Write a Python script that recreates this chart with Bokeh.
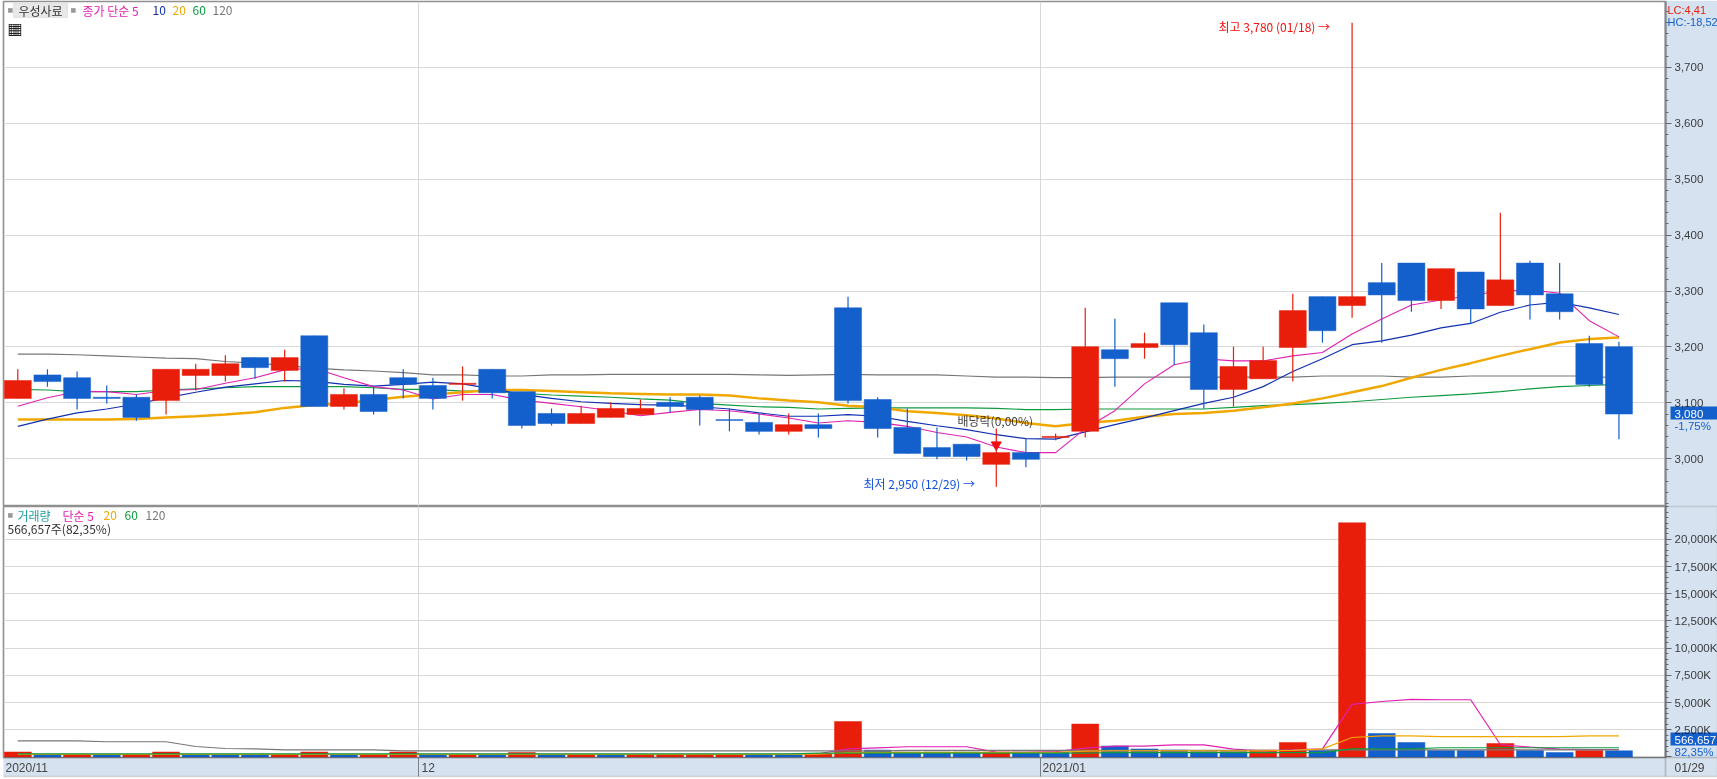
from bokeh.plotting import figure
from bokeh.layouts import column
from bokeh.models import (BoxAnnotation, ColumnDataSource, CustomJSTickFormatter, FixedTicker,
                          Label, LinearAxis, NumeralTickFormatter, Range1d)
from bokeh.embed import file_html
from bokeh.resources import INLINE

opens = [3108,3150,3145,3110,3110,3104,3149,3149,3181,3158,3220,3093.5,3115,3145,3131,3133,3160,
         3120,3081,3063,3074,3079,3101,3110,3070,3065,3049,3061,3270,3106,3056,3020,3026,2990,3011,
         3038,3049,3195,3199,3279,3225.5,3124,3143,3199,3290,3274,3315,3350,3283,3334,3274,3350,3295,3206,3200.5]
highs = [3160,3160,3156,3131,3115,3160,3170,3185,3181,3195,3220,3126,3129,3160,3145,3165,3160,
         3120,3090,3095,3101,3106,3110,3113,3090,3081,3081,3081,3290,3110,3090,3056,3026,3015,3036,
         3045,3270,3250.5,3225.5,3279,3240,3200.5,3200.5,3295,3290,3780,3350,3350,3340,3334,3440,3354,3350,3220,3209.5]
lows = [3108,3129,3088,3099,3068,3079,3122,3138,3143,3138,3093.5,3088,3079,3108,3088,3104,3108,
        3054,3059.5,3063,3074,3079,3083,3059.5,3049,3043.5,3043.5,3038,3099,3038,3009.5,2999,2997,2950,2985,
        3033,3038,3129,3179,3168,3090,3093.5,3143,3138,3207.7,3252,3207.7,3263,3268,3241.6,3274,3249,3249,3129,3035]
closes = [3140,3138,3108,3108,3074,3160,3160,3170,3163,3181,3093.5,3115,3084.5,3133,3108,3135,3118,
          3059.5,3063,3081,3090,3090,3093.5,3088,3068.5,3049,3061,3054,3104,3054,3009.5,3004,3004,3011,2999,
          3040,3200.5,3179,3206,3204,3124,3165,3175.6,3265,3229,3290,3293,3283,3340,3268,3320,3293,3263,3133,3080]

ma5 = [3094,3109,3120,3120,3115,3122,3124,3135,3145,3159,3162,3145,3129,3123,3107,3115,3115,
       3105,3099,3093,3086,3077,3083,3088,3086,3080,3073,3064,3068,3065,3058,3047,3039,3021,3011,
       3011,3054,3086,3134,3168,3179,3175,3175,3184,3190,3223,3250,3275,3284,3292,3300,3302,3296,3247,3218]
ma10 = [3058,3071,3082,3089,3098,3109,3119,3128,3134,3140,3139,3133,3130,3133,3137,3134,3125,
        3115,3108,3102,3099,3097,3096,3093,3089,3082,3076,3076,3079,3076,3067,3059,3052,3043,3036,
        3035,3048,3061,3073,3086,3099,3110,3129,3156,3179,3204,3211,3221,3234,3242,3262,3275,3280,3270,3258]
ma20 = [3070,3070,3070,3070,3071,3074,3076,3079,3083,3091,3096,3099,3105,3111,3115,3119,3123,
        3123,3121,3119,3117,3116,3115,3115,3113,3108,3104,3101,3095,3092,3085,3082,3078,3072,3064,
        3058,3064,3068,3075,3080,3082,3086,3092,3099,3108,3119,3130,3145,3159,3171,3184,3196,3208,3214,3217]
ma60 = [3124,3123,3120,3120,3120,3123,3125,3127,3129,3129,3129,3129,3127,3124,3124,3121,3121,
        3117,3114,3112,3110,3107,3105,3099,3096,3093,3092,3089,3090,3091,3091,3091,3091,3090,3088,
        3088,3089,3089,3089,3089,3089,3092,3095,3097,3099,3102,3106,3110,3113,3116,3120,3125,3129,3131,3133]
ma120 = [3187,3187,3186,3184,3182,3180,3179,3174,3171,3167,3162,3159,3157,3154,3150,3150,3148,
         3148,3150,3150,3151,3151,3151,3151,3151,3150,3149,3150,3151,3150,3150,3150,3148,3146,3146,
         3145,3145,3146,3146,3146,3146,3146,3146,3146,3148,3148,3148,3146,3146,3148,3148,3148,3148,3148,3144]

volume = [460,190,190,190,190,460,190,190,190,190,460,190,190,460,190,190,190,415,190,190,190,190,190,190,190,190,190,
          280,3260,640,460,460,460,460,460,460,3030,1010,740,640,500,500,640,1340,600,21520,2160,1330,600,600,1240,600,414,600,566.657]
volume_up = [1,0,1,0,1,1,0,0,0,1,1,0,1,1,0,1,0,1,0,1,0,1,1,1,1,0,0,1,1,0,0,0,0,1,0,0,1,0,0,0,0,0,1,1,0,1,0,0,0,0,1,0,0,1,0]
vol_ma5 = [240,240,240,240,240,240,240,240,240,240,240,240,240,240,240,240,240,240,240,240,240,240,240,240,240,240,240,
           300,750,840,940,940,940,450,430,500,820,1000,1000,1120,1120,730,540,650,750,4830,5100,5290,5260,5260,1150,900,720,690,690]
vol_ma20 = [230,230,230,230,230,230,230,230,230,230,230,230,230,230,230,230,230,230,230,230,230,230,230,230,230,240,250,
            270,400,420,430,430,430,430,430,430,540,570,570,570,570,570,570,600,750,1790,1950,1950,1880,1880,1880,1880,1880,1950,1950]
vol_ma60 = [290,290,290,290,290,290,290,290,290,290,290,290,290,290,290,290,290,290,290,290,290,290,290,290,290,290,290,
            360,360,360,360,360,360,360,360,360,360,410,410,410,410,410,410,410,410,750,750,750,850,850,850,850,850,850,850]
vol_ma120 = [1490,1490,1490,1400,1400,1400,965,780,750,660,660,660,660,570,570,570,570,570,570,570,570,570,570,570,570,570,570,
             570,570,570,600,600,600,600,600,600,600,600,600,600,600,600,600,600,660,660,660,660,660,660,660,660,660,660,660]

price_ticks = [3000, 3100, 3200, 3300, 3400, 3500, 3600, 3700]
price_minor = list(range(2920, 3820, 20))
volume_ticks = [0, 2500, 5000, 7500, 10000, 12500, 15000, 17500, 20000]
volume_minor = list(range(0, 23500, 500))
month_edges = [13.5, 34.5]
month_labels = ["2020/11", "12", "2021/01"]
last_date = "01/29"

RED, BLUE = "#E81E0A", "#135FCB"
MAGENTA, NAVY, ORANGE, GREEN, GREY = "#E020B0", "#1030B0", "#F0A800", "#109A40", "#777777"
PANEL, GRID, FRAME, INK = "#D6E2F0", "#D8D8D8", "#909090", "#444444"
KR, NUM = "Noto Sans CJK KR", "Liberation Sans"

x = list(range(len(closes)))
up = [c >= o for o, c in zip(opens, closes)]
candles = ColumnDataSource(dict(x=x, high=highs, low=lows,
                                top=[max(o, c) for o, c in zip(opens, closes)],
                                bottom=[min(o, c) for o, c in zip(opens, closes)],
                                color=[RED if u else BLUE for u in up]))
bars = ColumnDataSource(dict(x=x, v=volume, color=[RED if u else BLUE for u in volume_up]))

XR = (-0.482, 55.57)


def base(h, yr, border_top, border_bottom, ticks, minor, formatter):
    p = figure(frame_width=1662, frame_height=h, x_range=Range1d(*XR), y_range=Range1d(*yr),
               output_backend="svg", toolbar_location=None, x_axis_location=None, y_axis_location="right",
               min_border_left=3, min_border_right=52, min_border_top=border_top,
               min_border_bottom=border_bottom, border_fill_color="#FFFFFF", background_fill_color="#FFFFFF",
               outline_line_color=FRAME, outline_line_width=1.6)
    ax = p.yaxis[0]
    ax.ticker = FixedTicker(ticks=ticks, minor_ticks=minor)
    ax.formatter = formatter
    ax.axis_line_color = FRAME
    ax.axis_line_width = 2
    ax.major_tick_in = 0
    ax.major_tick_out = 6
    ax.minor_tick_in = 0
    ax.minor_tick_out = 3
    ax.major_tick_line_color = "#777777"
    ax.minor_tick_line_color = "#777777"
    ax.major_label_standoff = 3
    ax.major_label_text_font = NUM
    ax.major_label_text_font_size = "11.5px"
    ax.major_label_text_color = INK
    p.ygrid.grid_line_color = GRID
    p.ygrid.ticker = FixedTicker(ticks=ticks)
    p.xgrid.grid_line_color = GRID
    p.xgrid.ticker = FixedTicker(ticks=month_edges)
    return p


# ---------- price panel ----------
p1 = base(505, (2914.6, 3817.9), 1, 0, price_ticks, price_minor, NumeralTickFormatter(format="0,0"))
for series, color, w in ((ma120, GREY, 1.2), (ma60, GREEN, 1.2), (ma20, ORANGE, 2.5), (ma10, NAVY, 1.2), (ma5, MAGENTA, 1.1)):
    p1.line(x, series, line_color=color, line_width=w)
p1.segment("x", "low", "x", "high", source=candles, line_color="color", line_width=1.2)
p1.vbar("x", 0.91, "bottom", "top", source=candles, fill_color="color", line_color="color", line_width=0.5)
p1.segment([33], [3054], [33], [3020], line_color="#F01010", line_width=1.2)
p1.scatter([33], [3025], marker="inverted_triangle", size=10, fill_color="#F01010", line_color="#F01010")

# ---------- volume panel ----------
fmt = CustomJSTickFormatter(code="return tick === 0 ? '' : tick.toLocaleString('en-US') + 'K';")
p2 = base(251, (-46, 23020), 0, 22, volume_ticks, volume_minor, fmt)
p2.vbar("x", 0.91, 0, "v", source=bars, fill_color="color", line_color="color", line_width=0.5)
for series, color in ((vol_ma5, MAGENTA), (vol_ma120, GREY), (vol_ma20, ORANGE), (vol_ma60, GREEN)):
    p2.line(x, series, line_color=color, line_width=1.2)
strip = LinearAxis(ticker=FixedTicker(ticks=month_edges), major_tick_in=0, major_tick_out=19,
                   major_tick_line_color=FRAME, major_label_text_font_size="1px", axis_line_color=None,
                   minor_tick_line_color=None, major_label_standoff=0,
                   major_label_overrides={e: "" for e in month_edges})
p2.add_layout(strip, "below")

# ---------- page-wide layer: panel tint, frame boxes and texts (multiplied over the charts) ----------
ov = figure(frame_width=1717, frame_height=779, x_range=Range1d(0, 1717), y_range=Range1d(779, 0),
            output_backend="svg", toolbar_location=None, x_axis_location=None, y_axis_location=None,
            min_border=0, border_fill_color=None, background_fill_color=None, outline_line_color=None,
            styles={"position": "absolute", "left": "0px", "top": "0px", "z-index": "2",
                    "pointer-events": "none", "mix-blend-mode": "multiply"})
ov.grid.visible = False


def label(text, x, y, color=INK, size=12, font=KR):
    ov.add_layout(Label(x=x, y=y, x_units="canvas", y_units="canvas", text=text, text_color=color,
                        text_font=font, text_font_size=f"{size}px", text_baseline="middle"))


def box(l, r, t, b, fill=None, line=None, width=1):
    ov.add_layout(BoxAnnotation(left=l, right=r, top=t, bottom=b, left_units="canvas", right_units="canvas",
                                top_units="canvas", bottom_units="canvas", fill_color=fill, fill_alpha=1,
                                line_color=line, line_width=width, level="annotation", editable=False))


box(1665, 1717, 0, 757, fill=PANEL)
box(2, 1717, 757, 776, fill=PANEL)
box(1665, 1717, 506, 757, line=FRAME, width=1.5)
box(2, 1665, 757, 776, line=FRAME, width=1.5)
box(1665, 1717, 757, 776, line=FRAME, width=1.5)

label("■", 7, 9, color="#999999", size=6, font="DejaVu Sans")
box(13, 67, 3, 17, fill="#E8E8E8", line="#BBBBBB")
label("우성사료", 18, 10, color="#333333")
label("■", 70, 9, color="#999999", size=6, font="DejaVu Sans")
label("종가 단순 5", 82, 10, color=MAGENTA)
label("10", 152, 10, color=NAVY)
label("20", 172, 10, color=ORANGE)
label("60", 192, 10, color=GREEN)
label("120", 212, 10, color=GREY)
label("▦", 7, 28, color="#222222", size=16, font="DejaVu Sans")
label("최고 3,780 (01/18)  →", 1218, 26, color="#F01010")
label("최저 2,950 (12/29)  →", 863, 483, color="#1050E0")
label("배당락(0,00%)", 957, 420)
label("LC:4,41", 1667, 9, color=RED, size=11, font=NUM)
label("HC:-18,52", 1667, 21, color=BLUE, size=11, font=NUM)
box(1670, 1717, 406, 419, fill=BLUE)
label(f"{closes[-1]:,}", 1674, 413, color="#FFFFFF", size=11.5, font=NUM)
label("-1,75%", 1674, 425, color=BLUE, size=11.5, font=NUM)

label("■", 7, 514, color="#999999", size=6, font="DejaVu Sans")
label("거래량", 17, 515, color="#20A0A0")
label("단순 5", 62, 515, color=MAGENTA)
label("20", 103, 515, color=ORANGE)
label("60", 124, 515, color=GREEN)
label("120", 145, 515, color=GREY)
label("566,657주(82,35%)", 7, 528, color="#333333")
box(1670, 1717, 732, 745, fill=BLUE)
label("566,657", 1674, 739, color="#FFFFFF", size=11.5, font=NUM)
label("82,35%", 1674, 751, color=BLUE, size=11.5, font=NUM)
for text, xpos in zip(month_labels, (5, 421, 1042)):
    label(text, xpos, 767, size=12, font=NUM)
label(last_date, 1674, 767, size=12, font=NUM)

page = column(p1, p2, ov, spacing=0, styles={"position": "absolute", "left": "0px", "top": "0px"})
open("out.html", "w").write(file_html(page, INLINE))
